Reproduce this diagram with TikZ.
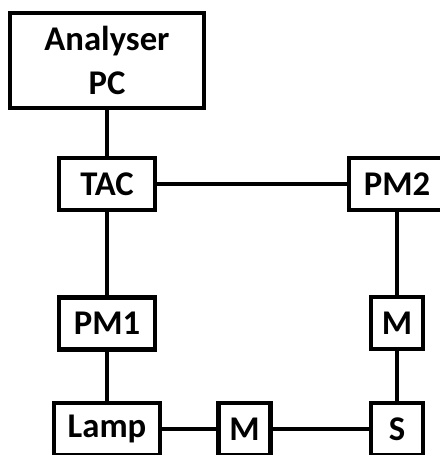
\documentclass[tikz,border=0pt]{standalone}
\usepackage{fontspec}
\setmainfont{Carlito}
\usepackage{tikz}
\usetikzlibrary{positioning}

\tikzset{
  unitbox/.style={draw=black, line width=3.2pt, font=\bfseries\fontsize{26}{33}\selectfont,
    align=center, inner sep=0pt, minimum height=39pt},
  smallbox/.style={unitbox, minimum width=39pt},
  widebox/.style={unitbox, minimum width=72pt},
  wire/.style={line width=2.5pt}
}

\begin{document}
\begin{tikzpicture}[x=0.75pt,y=-0.75pt]
  \useasboundingbox (0,0) rectangle (440,455);
  \clip (0,0) rectangle (440,455);
  \node[unitbox, minimum width=145.5pt, minimum height=71.5pt] (pc) at (107,60.5) {Analyser\\PC};
  \node[widebox] (tac) at (107,184) {TAC};
  \node[widebox] (pmb) at (397,184) {PM2};
  \node[widebox] (pma) at (107,323.5) {PM1};
  \node[unitbox, minimum width=79pt] (lamp) at (107,429) {Lamp};
  \node[smallbox] (mono) at (244.5,429) {M};
  \node[smallbox] (sample) at (397,429) {S};
  \node[smallbox] (monob) at (397,323) {M};
  \draw[wire] (pc) -- (tac);
  \draw[wire] (tac) -- (pma);
  \draw[wire] (pma) -- (lamp);
  \draw[wire] (tac) -- (pmb);
  \draw[wire] (pmb) -- (monob);
  \draw[wire] (monob) -- (sample);
  \draw[wire] (lamp) -- (mono);
  \draw[wire] (mono) -- (sample);
\end{tikzpicture}
\end{document}
